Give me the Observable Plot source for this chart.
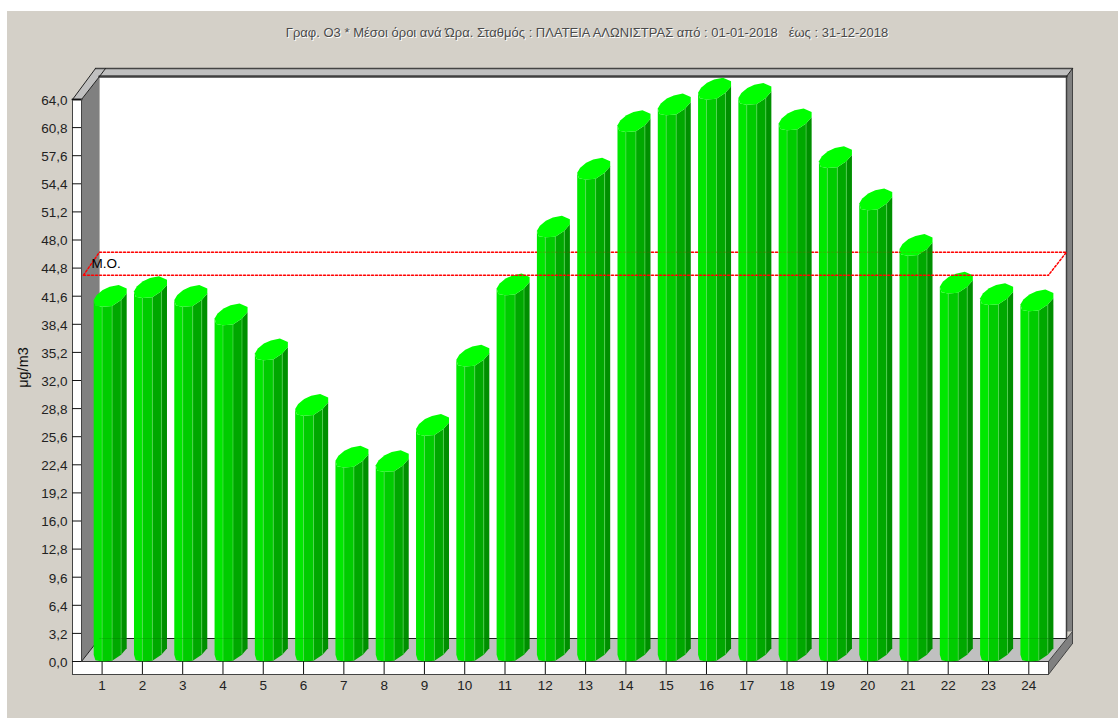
<!DOCTYPE html>
<html>
<head>
<meta charset="utf-8">
<script src="https://cdn.jsdelivr.net/npm/d3@7"></script>
<script src="https://cdn.jsdelivr.net/npm/@observablehq/plot@0.6"></script>
<style>
html,body{margin:0;padding:0;background:#fff;overflow:hidden}
#panel{position:absolute;left:7px;top:11px;right:0;bottom:0;background:#d4d0c8}
#chart{position:absolute;left:0;top:0}
#chart svg{background:transparent;display:block;overflow:visible}
#chart svg text{white-space:pre}
.emboss{text-shadow:1px 1px 0 #fff}
</style>
</head>
<body>
<div id="panel"></div>
<div id="chart"></div>
<script>
const hours = [1,2,3,4,5,6,7,8,9,10,11,12,13,14,15,16,17,18,19,20,21,22,23,24];
const o3Values = [40.4,41.4,40.4,38.3,34.3,28.0,22.1,21.6,25.7,33.6,41.7,48.3,54.9,60.3,62.2,64.0,63.4,60.5,56.2,51.4,46.2,41.9,40.6,39.9];
const meanValue = 44;
const yTicks = [0,3.2,6.4,9.6,12.8,16,19.2,22.4,25.6,28.8,32,35.2,38.4,41.6,44.8,48,51.2,54.4,57.6,60.8,64];
const titleText = "Γραφ. Ο3 * Μέσοι όροι ανά Ώρα. Σταθμός : ΠΛΑΤΕΙΑ ΑΛΩΝΙΣΤΡΑΣ από : 01-01-2018   έως : 31-12-2018";
const yLabel = "μg/m3";
const meanLabel = "Μ.Ο.";

const W = 1118, H = 718;
const font = "'Liberation Sans', Arial, sans-serif";

const xRange = [101.6, 1028.3], yRange = [661, 99];
const ux = (xRange[1]-xRange[0])/23, uy = (yRange[0]-yRange[1])/64;
const hx = px => px/ux, vy = px => px/uy;

const xStrip = 1 + hx(72-xRange[0]), xFront0 = 1 + hx(81-xRange[0]), xFront1 = 1 + hx(1048-xRange[0]);
const depthX = hx(18), depthY = vy(23);
const xBack0 = xFront0 + depthX, xBack1 = xFront1 + depthX, xOuter = xBack1 + hx(6);
const yTop = 64, yBackTop = yTop + depthY, yOuterTop = yBackTop + vy(8), yBase = -vy(13);

const poly = (pts, fill, stroke="none", strokeWidth=1) =>
  Plot.line(pts.concat([pts[0]]), {x:d=>d[0], y:d=>d[1], fill, stroke, strokeWidth, curve:"linear"});
const seg = (pts, stroke="#333", strokeWidth=1, extra={}) =>
  Plot.line(pts, {x:d=>d[0], y:d=>d[1], stroke, strokeWidth, curve:"linear", ...extra});

// Cylinder cross-section offsets in px: right of the tick, and above the lowest rim point
const faces = [
  [[-8.4,6.7],[-6.7,1.2],[0,0]],
  [[0,0],[10,0.7]],
  [[10,0.7],[19,6.7]],
  [[19,6.7],[24.6,13.2]]
];
const cap = [[-8.4,6.7],[-6.7,1.2],[0,0],[10,0.7],[19,6.7],[24.6,13.2],[24.6,18.2],[16.6,21.7],[7.6,19.9],[0.6,16.7],[-5.4,11.7]];
const seams = [0,10,19];
const faceFills = ["#00e800","#00cc00","#00a800","#008f00"];

const faceData = (i) => hours.flatMap((h,b) => {
  const v = o3Values[b], f = faces[i];
  const top = f.map(p => ({bar:h, x:h+hx(p[0]), y:v+vy(p[1])}));
  const bottom = f.slice().reverse().map(p => ({bar:h, x:h+hx(p[0]), y:vy(p[1])}));
  return [...top, ...bottom, top[0]];
});
const capData = hours.flatMap((h,b) => cap.concat([cap[0]]).map(p => ({bar:h, x:h+hx(p[0]), y:o3Values[b]+vy(p[1])})));
const seamData = seams.flatMap((s,i) => hours.map((h,b) => {
  const up = faces[i+1][0][1];
  return {x:h+hx(s), y1:vy(up), y2:o3Values[b]+vy(up)};
}));

const marks = [
  poly([[xBack0,depthY],[xBack1,depthY],[xBack1,yBackTop],[xBack0,yBackTop]], "#fff"),
  poly([[xFront0,0],[xBack0,depthY],[xBack0,yBackTop],[xFront0,yTop]], "#808080"),
  poly([[xFront0,0],[xFront1,0],[xBack1,depthY],[xBack0,depthY]], "#c0c0c0"),
  poly([[xBack1,depthY+vy(7)],[xOuter,depthY+vy(7)],[xOuter,yOuterTop],[xBack1,yBackTop]], "#808080"),
  poly([[xFront1,0],[xOuter,depthY+vy(7)],[xOuter,depthY-vy(5)],[xFront1,yBase]], "#808080"),
  poly([[xBack0,yBackTop],[xBack1,yBackTop],[xOuter,yOuterTop],[xBack0-hx(-6),yOuterTop]], "#c0c0c0"),
  poly([[xStrip,yTop],[xFront0,yTop],[xBack0,yBackTop],[xBack0+hx(6),yOuterTop],[xBack0-hx(4),yOuterTop]], "#c0c0c0"),
  poly([[xStrip,0],[xFront0,0],[xFront0,yTop],[xStrip,yTop]], "#fff"),
  poly([[xStrip,0],[xFront1,0],[xFront1,yBase],[xStrip,yBase]], "#fff"),
  seg([[xBack0,yBackTop],[xBack1,yBackTop]], "#404040", 2.5),
  seg([[xBack0-hx(4),yOuterTop],[xOuter,yOuterTop]], "#444", 1.5),
  seg([[xBack1,depthY],[xBack1,yBackTop]], "#404040", 1.5),
  seg([[xOuter,yOuterTop],[xOuter,depthY+vy(7)]], "#444", 1),
  seg([[xBack1,yBackTop],[xOuter,yOuterTop]], "#222", 1),
  seg([[xStrip,yTop],[xBack0-hx(4),yOuterTop]], "#222", 1),
  seg([[xFront0,yTop],[xBack0,yBackTop]], "#222", 1),
  seg([[xBack0+hx(6),yOuterTop],[xBack0,yBackTop]], "#222", 1),
  seg([[xStrip,yTop],[xFront0,yTop]], "#222", 2),
  seg([[xFront0,0],[xBack0,depthY]], "#222", 1),
  seg([[xBack0,depthY],[xBack1,depthY]], "#222", 1.2),
  seg([[xStrip,yBase],[xStrip,yTop]], "#444", 1),
  seg([[xFront0,0],[xFront0,yTop]], "#444", 1),
  seg([[xFront1,0],[xOuter,depthY+vy(7)]], "#444", 1),
  seg([[xFront1,yBase],[xOuter,depthY-vy(5)]], "#444", 1),
  seg([[xOuter,depthY-vy(5)],[xOuter,depthY+vy(7)]], "#444", 1),
  seg([[xFront1,0],[xFront1,yBase]], "#444", 1),
  seg([[xStrip,yBase],[xFront1,yBase]], "#444", 1.2),
  seg([[xStrip,0],[xFront1,0]], "#333", 1.2),
  // back of the mean band, behind the bars
  seg([[xStrip+hx(11),meanValue],[xBack0,meanValue+depthY],[xBack1,meanValue+depthY],[xFront1,meanValue]], "#ff0000", 1.5, {strokeDasharray:"2,2"}),
  // cylinders
  ...faceFills.map((f,i) => Plot.line(faceData(i), {x:"x", y:"y", z:"bar", fill:f, stroke:"none", curve:"linear"})),
  Plot.ruleX(seamData, {x:"x", y1:"y1", y2:"y2", stroke:"#5fe05f", strokeOpacity:0.6, strokeWidth:1}),
  Plot.line(capData, {x:"x", y:"y", z:"bar", fill:"#00ff00", stroke:"none", curve:"linear"}),
  // lines faintly showing through the bars
  seg([[xBack0,depthY],[xBack1,depthY]], "#000", 1, {strokeOpacity:0.1}),
  seg([[xBack0,meanValue+depthY],[xBack1,meanValue+depthY]], "#ff0000", 1.5, {strokeDasharray:"2,2", strokeOpacity:0.12}),
  // front of the mean band, in front of the bars
  seg([[xStrip+hx(11),meanValue],[xFront1,meanValue]], "#ff0000", 1.5, {strokeDasharray:"2,2"}),
  Plot.axisY({ticks:yTicks, tickSize:9, tickFormat:()=>"", stroke:"#111", label:null}),
  Plot.axisY({ticks:yTicks, tickSize:0, tickPadding:14, dy:1, tickFormat:d=>d.toFixed(1).replace(".",","),
    label:null, fontSize:13.5, fill:"#222"}),
  Plot.axisX({ticks:hours, tickSize:13, tickPadding:6, tickFormat:d=>String(d), stroke:"#111", label:null, fontSize:13.5, fill:"#222"}),
  Plot.text([yLabel], {x:()=>1+hx(22.5-xRange[0]), y:()=>vy(661-367), text:d=>d, rotate:-90, fontSize:14.5, fill:"#111", fontFamily:font}),
  Plot.text([meanLabel], {x:()=>1+hx(91-xRange[0]), y:()=>meanValue+vy(11), text:d=>d, textAnchor:"start", fontSize:13.5, fill:"#000", fontFamily:font}),
  Plot.text([titleText], {x:()=>1+hx(586.5-xRange[0]), y:()=>64+vy(67), text:d=>d, fontSize:13, fill:"#4a4a4a", fontFamily:font, className:"emboss"})
];

const chart = Plot.plot({
  width:W, height:H,
  marginLeft:81, marginBottom:H-661, marginTop:99, marginRight:W-1028,
  style:{fontFamily:font, fontSize:"13.5px", background:"transparent"},
  x:{type:"linear", domain:[1,24], range:xRange, label:null},
  y:{type:"linear", domain:[0,64], range:yRange, label:null},
  marks
});
document.getElementById("chart").appendChild(chart);
</script>
</body>
</html>
